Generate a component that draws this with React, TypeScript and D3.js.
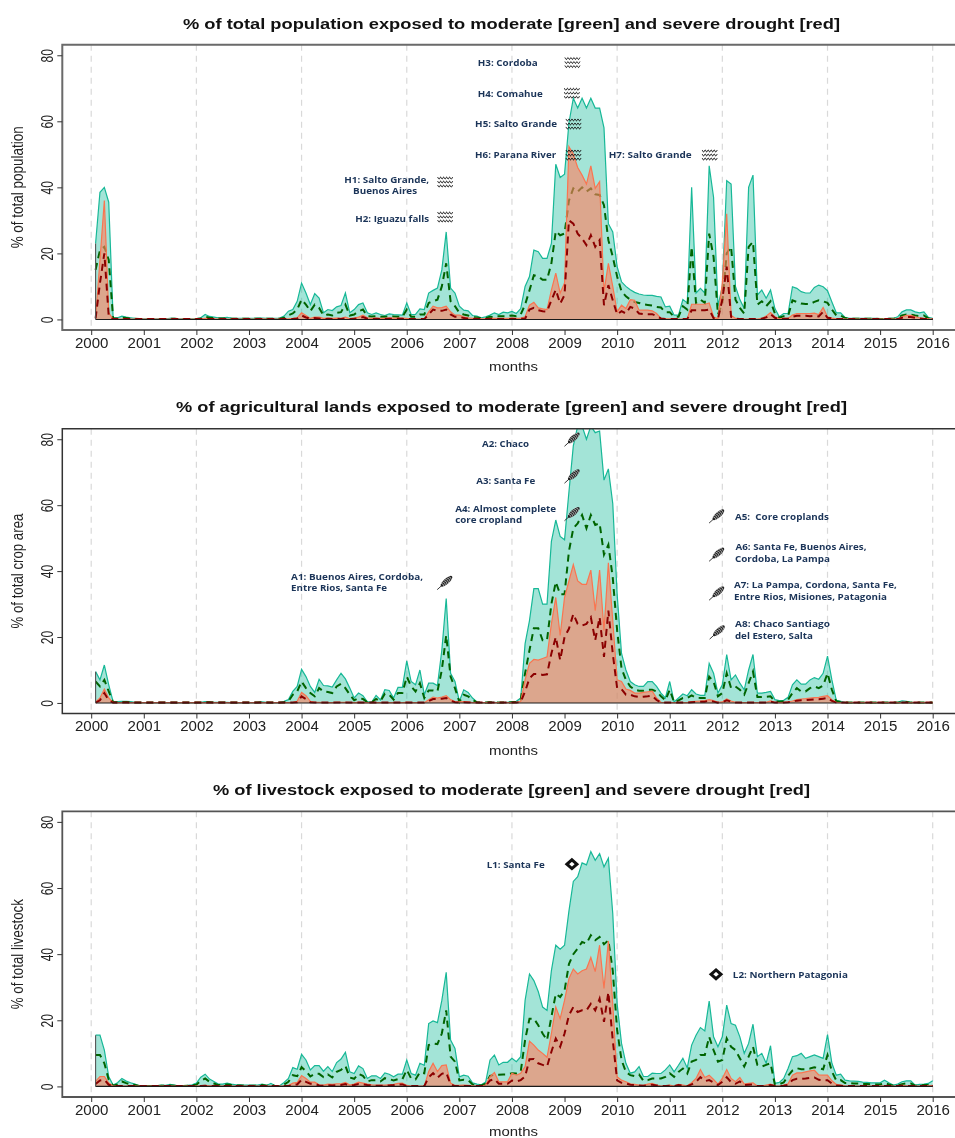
import React, { useEffect, useRef } from "react";
import * as d3 from "d3";

// Monthly series, Feb 2000 .. Jan 2016 (percent)
const popModerateArea = [
  23,38.5,40,35.5,.5,.5,1,.7,.5,.3,.2,
  .2,.2,.2,.2,.2,.2,.3,.3,.2,.2,.2,.2,
  .2,.5,1.5,.9,.7,.5,.5,.6,.4,.3,.3,.3,
  .3,.3,.4,.4,.3,.3,.3,.4,1,2.5,3,5.5,
  11,8,4.5,7.8,6.5,2,3,2.7,3.8,4.2,8,2,
  3,4.5,5,2,1.5,2,1.5,1.2,1.7,1.5,1.4,1.3,
  5,1.5,1.5,3.2,3,8,8.8,9.5,15,26.5,9.5,8,
  4,2.8,2.6,1.2,1,.5,.8,1.3,2,1.5,2.2,2,
  2.4,1.8,3.3,10,13,21,20.5,18.5,18.5,23,47,43,
  44,59.5,67,64,67,64,67,64,64,58,29,26.5,
  16,11.4,10,9,8.2,7.7,7.4,7.3,7.3,7,6.8,3.8,
  4,1.3,1.3,6,5,40,8,9.4,8,46.5,37,4,
  10,42,41,10,6,3.3,40,43.7,7.4,8.9,6.4,8.9,
  3.3,.8,1.8,1.8,9.9,9.4,8.4,8,8,9.7,10.4,9.9,
  8.7,5.3,2,2,.6,.3,.3,.3,.3,.3,.3,.3,
  .2,.2,.3,.3,.8,2.3,2.9,2.9,2.3,2,2.3,.6,
  .3];
const popModerateLine = [
  15,21,22,18,.3,.3,.5,.4,.3,.2,.1,
  .1,.1,.1,.1,.1,.1,.2,.2,.1,.1,.1,.1,
  .1,.3,.8,.5,.4,.3,.3,.3,.2,.2,.2,.2,
  .2,.2,.2,.2,.2,.2,.2,.2,.5,1.3,1.8,3,
  6,4.5,2.5,4.5,3.5,1.2,1.5,1.2,2,2.2,4.5,1.2,
  1.5,2.5,3,1,.9,1,.8,.8,1,.9,.8,.8,
  3,.8,.8,1.5,1.5,5,5.5,6,10,17,5.5,4,
  2,1.5,1.2,.7,.6,.3,.4,.8,.7,1,1,1,
  1.2,1,1.5,4.5,8.8,13.4,13,12,12,17,26.7,25.5,
  26,36,39.7,38.7,40,38.7,39.7,37.9,37.7,34.6,24,19,
  13,8.5,7,6,5.3,5,4.6,4.4,4.2,3.8,3.6,2.2,
  2.2,.8,.8,4,3,22,5,6,5,26,19,1.5,
  5,20,22,6,3.5,1.8,22,23.5,4.5,5.5,4,5.5,
  1.8,.5,1,1,5.8,5.3,4.8,4.7,4.7,5.3,5.8,5.5,
  5,3,1.2,1.2,.4,.2,.2,.2,.2,.2,.2,.2,
  .1,.1,.2,.2,.4,1.2,1.5,1.5,1.2,1,1.2,.3,
  .2];
const popSevereArea = [
  .5,18,36,2,.1,.1,.1,.1,.1,.1,.1,
  .1,.1,.1,.1,.1,.1,.1,.1,.1,.1,.1,.1,
  .1,.1,.3,.2,.2,.1,.1,.1,.1,.1,.1,.1,
  .1,.1,.1,.2,.1,.1,.1,.1,.1,.2,.3,.5,
  2,1.2,.3,.7,.7,.3,.4,.3,.4,.3,.7,.2,
  .4,.7,1.3,.5,.3,.4,.3,.3,.5,.4,.4,.4,
  .3,.1,.1,.1,.1,2.3,4,3.5,3.6,4,2.3,1.3,
  1.3,.8,.5,.3,.3,.2,.2,.3,.3,.3,.3,.3,
  .4,.3,.4,.8,4.3,5.2,3.5,3.2,3,8.9,14,8,
  11,52.3,50,46,43.7,41,46.5,39.7,41.7,8.4,17,10,
  2.3,4.3,3.3,6,5.8,2.8,2.8,2.8,2.6,1.8,.3,.2,
  .2,.1,.1,.1,.1,4.6,4.6,4.6,4.6,5,.8,.2,
  11,32,1.3,.3,.1,.1,.1,.1,.1,.3,1,2.1,
  .8,.2,.3,.3,1.3,1.8,1.8,1.8,1.8,1.9,1.5,3.6,
  .8,.4,.2,.1,.1,.1,.1,.1,.1,.1,.1,.1,
  .1,.1,.1,.1,.2,.8,1.2,1.2,.8,.5,.3,.2,
  .1];
const popSevereLine = [
  .3,11,20,1,.1,.1,.1,.1,.1,.1,.1,
  .1,.1,.1,.1,.1,.1,.1,.1,.1,.1,.1,.1,
  .1,.1,.1,.1,.1,.1,.1,.1,.1,.1,.1,.1,
  .1,.1,.1,.1,.1,.1,.1,.1,.1,.1,.1,.3,
  1.2,.6,.2,.4,.3,.1,.2,.1,.2,.1,.3,.1,
  .2,.3,.7,.2,.1,.2,.1,.1,.2,.2,.2,.2,
  .1,.1,.1,.1,.1,1.5,3,2.6,2.6,3,1.5,.8,
  .8,.4,.2,.1,.1,.1,.1,.1,.1,.1,.1,.1,
  .2,.1,.2,.2,3,3.5,2.8,2.5,2.4,5.8,9,4.8,
  7.4,30,29,26,24.5,22.5,25.5,22,24,4.3,10.4,5.8,
  1.5,2.5,1.8,3.8,3.3,1.8,1.6,1.6,1.6,1,.3,.1,
  .1,.1,.1,.1,.1,2.8,2.8,2.8,2.8,3,.4,.1,
  6,16,.8,.2,.1,.1,.1,.1,.1,.2,.6,1.6,
  .5,.1,.2,.2,.8,1.1,1.1,1.1,1,1.1,.9,2.3,
  .5,.3,.1,.1,.1,.1,.1,.1,.1,.1,.1,.1,
  .1,.1,.1,.1,.1,.5,.7,.7,.5,.3,.1,.1,
  .1];

const cropModerateArea = [
  9.5,7,11.5,5.5,.4,.4,.5,.5,.4,.2,.1,
  .1,.1,.1,.1,.1,.1,.1,.1,.1,.1,.1,.1,
  .1,.2,.4,.3,.2,.2,.2,.2,.1,.1,.1,.1,
  .1,.1,.2,.3,.2,.1,.1,.1,.5,1,3.5,5,
  10.2,8,5,3.2,7.2,5.3,5.2,4.8,7,9,7.3,4.5,
  1.5,3,2.2,.3,.3,2.3,.9,4,3.8,1.5,4.7,4.7,
  12.8,6.5,5.5,10,2.5,6,6,5.3,16,31.7,9,6.5,
  .5,4,3.2,1.5,.3,.1,.1,.3,.2,.1,.2,.2,
  .4,.5,1.5,18,25,34.7,34.7,30,30,49,55.5,50.5,
  49.5,64,78,84,84,80,84,82,82.5,67.6,71,60.5,
  33,15,10,6.5,5.5,5,5,6.5,6.5,5,3,1.5,
  6.5,.3,1.5,2.7,2.2,4,2.7,2.3,2.3,12,9,3,
  5.5,14.7,7,8.5,6,4,10,14.7,3,3,3.2,3.5,
  1,.7,.8,1.7,5.5,7,5.7,5.7,7,7.7,7.2,9,
  14.2,7,.8,.5,.2,.1,.1,.1,.1,.1,.1,.1,
  .1,.1,.1,.1,.2,.6,.5,.2,.1,.1,.1,.1,
  .1];
const cropModerateLine = [
  6.5,5,7,3.5,.2,.2,.3,.3,.2,.1,.1,
  .1,.1,.1,.1,.1,.1,.1,.1,.1,.1,.1,.1,
  .1,.1,.2,.2,.1,.1,.1,.1,.1,.1,.1,.1,
  .1,.1,.1,.2,.1,.1,.1,.1,.2,.5,2.5,3.5,
  6.5,4.5,3,2,4.5,3.5,3.3,3,5,5.8,4.5,2.5,
  .8,1.5,1.2,.2,.2,1.2,.5,2.8,2.5,1,3,3,
  8,5,3.5,6,1.5,3.8,3.8,3.5,10,20.5,8,4.5,
  .3,2.5,2,1,.2,.1,.1,.2,.1,.1,.1,.1,
  .2,.3,1,9,16,22.7,22.7,19,19,30,36.7,33,
  33,46,53,54.5,57,53,57,54,54.5,45,48,38,
  22,10.5,7,5,4,3.7,3.7,4,4,3.5,2,.8,
  4,.2,.8,1.5,1.5,2.3,1.6,1.5,1.5,8,6.5,2,
  3,9,4.5,5,4,2.5,6,9.5,1.8,1.8,1.9,2,
  .5,.4,.5,1,3,4.5,3.5,3.5,4.5,5,4.5,5.3,
  9,4,.5,.3,.1,.1,.1,.1,.1,.1,.1,.1,
  .1,.1,.1,.1,.1,.3,.3,.1,.1,.1,.1,.1,
  .1];
const cropSevereArea = [
  .2,1.5,4.2,1.5,.1,.1,.1,.1,.1,.1,.1,
  .1,.1,.1,.1,.1,.1,.1,.1,.1,.1,.1,.1,
  .1,.1,.1,.1,.1,.1,.1,.1,.1,.1,.1,.1,
  .1,.1,.1,.1,.1,.1,.1,.1,.1,.1,.1,.5,
  3.2,2.2,.5,.2,.2,.1,.1,.1,.2,.2,.2,.1,
  .1,.2,.1,.1,.1,.1,.1,.1,.1,.1,.1,.1,
  .2,.1,.1,.1,.1,1,1.8,1.5,1.8,2.2,1,.4,
  .3,.4,.3,.1,.1,.1,.1,.1,.1,.1,.1,.1,
  .1,.1,.5,7,12,13.2,13,13.5,14,24,32,20.5,
  32,37,42,37,36,36,40.3,28,40.3,22,42.5,25,
  7,6.5,4.2,3.8,3,3,3.2,3.4,3.6,1.5,.2,.1,
  .1,.1,.1,.1,.1,.4,.5,.6,.7,1,.7,.2,
  .3,1.2,.6,.2,.1,.1,.1,.1,.1,.1,.2,.6,
  .2,.1,.1,.3,.6,1,1.2,1.3,1.5,1.6,1.7,2,
  2.2,1,.2,.1,.1,.1,.1,.1,.1,.1,.1,.1,
  .1,.1,.1,.1,.1,.1,.1,.1,.1,.1,.1,.1,
  .1];
const cropSevereLine = [
  .1,.8,3,.8,.1,.1,.1,.1,.1,.1,.1,
  .1,.1,.1,.1,.1,.1,.1,.1,.1,.1,.1,.1,
  .1,.1,.1,.1,.1,.1,.1,.1,.1,.1,.1,.1,
  .1,.1,.1,.1,.1,.1,.1,.1,.1,.1,.1,.2,
  2,1.2,.2,.1,.1,.1,.1,.1,.1,.1,.1,.1,
  .1,.1,.1,.1,.1,.1,.1,.1,.1,.1,.1,.1,
  .1,.1,.1,.1,.1,.6,1.2,1.2,1.3,1.5,.7,.2,
  .1,.2,.1,.1,.1,.1,.1,.1,.1,.1,.1,.1,
  .1,.1,.3,3.5,7.5,8.8,8.8,8.5,8.7,15,20,13,
  20,22.5,27,24,23.5,24,26,19,26,14,28,15,
  4.5,4.2,2.5,2.5,2,1.8,1.9,2,2.2,.9,.1,.1,
  .1,.1,.1,.1,.1,.2,.3,.4,.4,.7,.4,.1,
  .2,.8,.4,.1,.1,.1,.1,.1,.1,.1,.1,.4,
  .1,.1,.1,.2,.4,.7,.8,.9,1,1.1,1.1,1.3,
  1.5,.6,.1,.1,.1,.1,.1,.1,.1,.1,.1,.1,
  .1,.1,.1,.1,.1,.1,.1,.1,.1,.1,.1,.1,
  .1];

const stockModerateArea = [
  15.5,15.5,11,3,.4,1.1,2.4,1.6,1.1,.7,.1,
  .1,.1,.1,.2,.4,.3,.6,.4,.1,.2,.3,.5,
  1,2.8,3.7,2.2,1.5,.7,.7,1,.7,.5,.5,.4,
  .4,.4,.4,.7,.3,.9,.2,.2,1.2,2.4,5.7,5.2,
  9.7,8,5,6.3,6.3,4.6,6,4.5,7.2,8.3,10.3,4.4,
  3.9,6.2,5.4,2.4,3.2,3.2,2.4,4.1,3.7,2.9,3.7,3.7,
  8,3.9,3.4,7,6.4,19,19.8,19.3,26,34.5,14,11.5,
  2.9,3.4,3.1,1.1,.7,.5,1.3,8,9.5,6.5,7.3,7.3,
  8.5,7.5,9,26,34,32,28.7,24,23,35,42.7,41.5,
  42.7,53,62,63.4,67.6,67,71,68.4,70.4,66.4,69,52.3,
  25,13,7,4,4.4,6,3,3,4,3.9,3.9,5,
  6.5,4.4,6.4,8.5,5.6,12.5,15.5,17.8,16.8,25.8,15,12,
  15,24.6,19,18.5,15,10,13,18.8,9,10,7,12.3,
  .9,1.2,2.4,5.4,9,9.3,10,8.5,9,9.5,9,8.5,
  15.7,7,3.4,3.7,1.9,1.7,1.6,1.5,1.3,1.2,1.1,1.1,
  1.1,1.9,1.1,.4,.7,1.4,1.7,1.7,.4,.6,.7,.9,
  1.7];
const stockModerateLine = [
  9.5,9.5,7,2,.2,.6,1.5,1,.6,.4,.1,
  .1,.1,.1,.1,.2,.2,.3,.2,.1,.1,.2,.3,
  .5,1.7,2.4,1.4,.9,.4,.4,.6,.4,.3,.3,.2,
  .2,.2,.2,.4,.2,.5,.1,.1,.6,1.4,3.4,3.1,
  5.8,4.6,3,3.8,3.8,2.8,3.6,2.7,4.4,5,6.2,2.7,
  2.3,3.8,3.2,1.5,1.9,1.9,1.5,2.5,2.2,1.8,2.2,2.2,
  5,2.4,2.1,4.3,4,12.5,13,12.8,16,23,9,7.5,
  1.8,2,1.9,.6,.4,.3,.8,3.2,3.5,3.5,3.6,3.6,
  4,3.9,4.5,14,20.5,20.5,18.5,16,14,21,28,27,
  29,37,40,41.7,43.7,43.2,45.7,44.2,45.2,43,44.2,35,
  17,8,4.4,3.4,3.1,3.6,1.7,1.9,2.4,2.4,2.4,2.9,
  4,2.9,4.4,5.4,3.9,7.5,8,9.5,9.5,15,11,7.5,
  8,14.5,12,11,8.5,6,9,12,6.5,6,6.5,7,
  .5,.7,1.2,3.2,4.8,5.5,5.2,5.2,5.4,5.8,5.5,5.2,
  9.5,4.5,1.8,1.9,1,1,.9,.9,.7,.7,.6,.6,
  .6,1,.6,.2,.3,.7,.9,.9,.2,.3,.4,.5,
  1];
const stockSevereArea = [
  1.5,3,3,1,.1,.1,.1,.1,.1,.1,.1,
  .1,.1,.1,.1,.1,.1,.1,.1,.1,.1,.1,.1,
  .1,.2,.3,.2,.2,.1,.1,.1,.1,.1,.1,.1,
  .1,.1,.1,.1,.1,.1,.1,.1,.1,.3,1,1.2,
  3.3,2.4,1.3,1.3,.5,.4,.7,.6,.8,.8,1.2,.4,
  .7,1.3,1,.7,.5,.4,.4,.4,.5,.6,.9,1,
  .3,.1,.1,.1,.1,4.5,7,4.5,6.3,6.5,1,.3,
  .3,.4,.3,.2,.1,.1,.4,3,4.2,1.4,1.4,1.4,
  4,3.4,4,6,13.7,12.5,11,10,8.8,16,24,20.5,
  26,32.6,35.5,34,35,35.5,39,34.7,42.7,29.6,44,25,
  2.9,1.9,1.4,.8,.6,.4,.3,.7,.9,.4,.1,.2,
  .4,.1,.6,.4,.2,1.1,2.4,5.1,2.7,3.4,2.1,.7,
  2.4,5.1,2.4,1.4,2.7,.7,.9,1.1,.1,.1,.4,.7,
  .2,.1,.4,.8,3.4,4.1,4.1,4.4,4.7,4.9,3.5,3.4,
  3.4,1.7,.6,.4,.2,.1,.1,.1,.1,.1,.1,.1,
  .1,.2,.1,.1,.1,.3,.2,.1,.1,.1,.1,.2,
  .3];
const stockSevereLine = [
  .7,1.8,2,.5,.1,.1,.1,.1,.1,.1,.1,
  .1,.1,.1,.1,.1,.1,.1,.1,.1,.1,.1,.1,
  .1,.1,.2,.1,.1,.1,.1,.1,.1,.1,.1,.1,
  .1,.1,.1,.1,.1,.1,.1,.1,.1,.1,.5,.6,
  2,1.4,.8,.8,.3,.2,.4,.3,.4,.4,.7,.2,
  .4,.7,.6,.4,.3,.2,.2,.2,.3,.4,.6,.6,
  .1,.1,.1,.1,.1,2.8,4,2.6,3.8,4.2,.6,.1,
  .1,.1,.1,.1,.1,.1,.2,1.8,2.2,.8,.8,.8,
  1.8,1.5,1.9,3,8.2,8.3,7,6.5,6,10.5,14.5,12,
  16,21.5,24,22.5,23,23,25,23,26.5,19.5,28.5,14,
  1.8,1.1,.9,.5,.4,.3,.2,.4,.5,.3,.1,.1,
  .2,.1,.4,.2,.1,.6,1.4,2.8,1.6,1.9,1.2,.4,
  1.4,2.8,1.3,.8,1.5,.4,.5,.6,.1,.1,.2,.4,
  .1,.1,.2,.5,1.9,2.3,2.3,2.4,2.6,2.7,2,1.9,
  1.9,.9,.3,.2,.1,.1,.1,.1,.1,.1,.1,.1,
  .1,.1,.1,.1,.1,.2,.1,.1,.1,.1,.1,.1,
  .1];

const yearTicks = d3.range(2000, 2017);
const gridYears = [2000, 2002, 2004, 2006, 2008, 2010, 2012, 2014, 2016];
const valueTicks = [0, 20, 40, 60, 80];

// Annotations: [year, value, width, text]
const popNotes: [number, number, number, string][] = [
  [2004.81, 42.5, 85, "H1: Salto Grande,"],
  [2004.98, 38.9, 64, "Buenos Aires"],
  [2005.02, 30.7, 74, "H2: Iguazu falls"],
  [2007.35, 77.7, 60, "H3: Cordoba"],
  [2007.35, 68.3, 65, "H4: Comahue"],
  [2007.30, 59.2, 82, "H5: Salto Grande"],
  [2007.30, 49.8, 81, "H6: Parana River"],
  [2009.84, 49.8, 83, "H7: Salto Grande"],
];
const popWaves: [number, number][] = [
  [2006.73, 41.6], [2006.73, 31], [2009.15, 77.8], [2009.14, 68.5],
  [2009.17, 59.2], [2009.17, 49.8], [2011.76, 49.8],
];
const cropNotes: [number, number, number, string][] = [
  [2003.80, 38.5, 132, "A1: Buenos Aires, Cordoba,"],
  [2003.80, 34.9, 96, "Entre Rios, Santa Fe"],
  [2007.43, 78.8, 47, "A2: Chaco"],
  [2007.32, 67.6, 59, "A3: Santa Fe"],
  [2006.92, 59.1, 101, "A4: Almost complete"],
  [2006.92, 55.5, 67, "core cropland"],
  [2012.24, 56.7, 94, "A5:  Core croplands"],
  [2012.25, 47.5, 131, "A6: Santa Fe, Buenos Aires,"],
  [2012.24, 43.8, 95, "Cordoba, La Pampa"],
  [2012.22, 35.8, 163, "A7: La Pampa, Cordona, Santa Fe,"],
  [2012.22, 32.2, 153, "Entre Rios, Misiones, Patagonia"],
  [2012.24, 24, 95, "A8: Chaco Santiago"],
  [2012.24, 20.3, 78, "del Estero, Salta"],
];
const cropWheat: [number, number][] = [
  [2006.72, 36.4], [2009.14, 79.9], [2009.14, 68.7], [2009.14, 57.3],
  [2011.89, 56.6], [2011.89, 45], [2011.89, 33.2], [2011.9, 21.4],
];
const stockNotes: [number, number, number, string][] = [
  [2007.52, 67.2, 58, "L1: Santa Fe"],
  [2012.2, 33.9, 115, "L2: Northern Patagonia"],
];
const stockDiamonds: [number, number][] = [[2009.14, 67.2], [2011.88, 33.9]];

const panels = [
  { title: "% of total population exposed to moderate [green] and severe drought [red]",
    tx: [183, 657], tb: 29, yLabel: "% of total population", yw: 122,
    top: 44.7, bottom: 330, mBase: 371, frame: ["#6a6a6a", 2],
    mod: popModerateArea, modL: popModerateLine, sev: popSevereArea, sevL: popSevereLine,
    notes: popNotes, waves: popWaves, wheat: [], diamonds: [] },
  { title: "% of agricultural lands exposed to moderate [green] and severe drought [red]",
    tx: [176, 671], tb: 412, yLabel: "% of total crop area", yw: 115,
    top: 428.7, bottom: 713.5, mBase: 755, frame: ["#333333", 1.5],
    mod: cropModerateArea, modL: cropModerateLine, sev: cropSevereArea, sevL: cropSevereLine,
    notes: cropNotes, waves: [], wheat: cropWheat, diamonds: [] },
  { title: "% of livestock exposed to moderate [green] and severe drought [red]",
    tx: [213, 597], tb: 795, yLabel: "% of total livestock", yw: 110,
    top: 811.3, bottom: 1097, mBase: 1136, frame: ["#555555", 1.8],
    mod: stockModerateArea, modL: stockModerateLine, sev: stockSevereArea, sevL: stockSevereLine,
    notes: stockNotes, waves: [], wheat: [], diamonds: stockDiamonds },
] as any[];

const NAVY = "#1b3458";
const SANS = "'Liberation Sans', Arial, sans-serif";

export default function App() {
  const ref = useRef<SVGSVGElement | null>(null);
  useEffect(() => {
    const svg = d3.select(ref.current!);
    svg.selectAll("*").remove();
    const left = 62.3;
    const x = d3.scaleLinear().domain([2000, 2016]).range([91.2, 932.7]);
    const tOf = (i: number) => 2000 + (i + 1) / 12;

    panels.forEach((p: any, pi: number) => {
      const g = svg.append("g");
      const y = d3.scaleLinear().domain([-3.2, 83.2]).range([p.bottom, p.top]);
      const clipId = `clip${pi}`;
      svg.append("clipPath").attr("id", clipId).append("rect")
        .attr("x", left).attr("y", p.top).attr("width", 955 - left).attr("height", p.bottom - p.top);

      // grid
      g.append("g").selectAll("line").data(gridYears).join("line")
        .attr("x1", (d) => x(d)).attr("x2", (d) => x(d))
        .attr("y1", p.top).attr("y2", p.bottom)
        .attr("stroke", "#d9d9d9").attr("stroke-width", 1.2).attr("stroke-dasharray", "6,5");

      const plot = g.append("g").attr("clip-path", `url(#${clipId})`);
      const area = d3.area<number>().x((_, i) => x(tOf(i))).y0(y(0)).y1((d) => y(d));
      const line = d3.line<number>().x((_, i) => x(tOf(i))).y((d) => y(d));

      plot.append("path").attr("d", area(p.mod)!).attr("fill", "#1abc9c").attr("fill-opacity", 0.4);
      plot.append("path").attr("d", line(p.mod)!).attr("fill", "none").attr("stroke", "#17b897").attr("stroke-width", 1.2);
      plot.append("path").attr("d", line(p.modL)!).attr("fill", "none").attr("stroke", "#006400")
        .attr("stroke-width", 2).attr("stroke-dasharray", "7,5");
      plot.append("path").attr("d", area(p.sev)!).attr("fill", "#ff7f60").attr("fill-opacity", 0.62);
      plot.append("path").attr("d", line(p.sev)!).attr("fill", "none").attr("stroke", "#fa7550").attr("stroke-width", 1.2);
      plot.append("path").attr("d", line(p.sevL)!).attr("fill", "none").attr("stroke", "#8b0000")
        .attr("stroke-width", 2).attr("stroke-dasharray", "7,5");

      // baseline and left closure of the polygons
      plot.append("line").attr("x1", x(tOf(0))).attr("x2", x(2016)).attr("y1", y(0)).attr("y2", y(0))
        .attr("stroke", "#1a1a1a").attr("stroke-width", 1.1);
      plot.append("line").attr("x1", x(tOf(0))).attr("x2", x(tOf(0))).attr("y1", y(0)).attr("y2", y(p.mod[0]))
        .attr("stroke", "#555").attr("stroke-width", 1.1);

      // frame (open on the right, where the image is cut)
      g.append("path")
        .attr("d", `M955,${p.top}H${left}V${p.bottom}H955`)
        .attr("fill", "none").attr("stroke", p.frame[0]).attr("stroke-width", p.frame[1]);

      // axes
      const ax = g.append("g").attr("transform", `translate(0,${p.bottom})`)
        .call(d3.axisBottom(x).tickValues(yearTicks).tickFormat(d3.format("d")).tickSize(5));
      ax.select(".domain").remove();
      ax.selectAll("line").attr("stroke", "#333");
      ax.selectAll("text").attr("font-family", SANS).attr("font-size", 14).attr("fill", "#222")
        .attr("y", 8).attr("dy", "0.71em")
        .attr("textLength", 33.5).attr("lengthAdjust", "spacingAndGlyphs");

      const ay = g.append("g").attr("transform", `translate(${left},0)`)
        .call(d3.axisLeft(y).tickValues(valueTicks).tickSize(5));
      ay.select(".domain").remove();
      ay.selectAll("line").attr("stroke", "#333");
      ay.selectAll("text").attr("font-family", SANS).attr("font-size", 12).attr("fill", "#222")
        .attr("x", 0).attr("dy", 0).attr("text-anchor", "middle")
        .attr("transform", "translate(-15.5,0) scale(1.42,1) rotate(-90) translate(0,4.3)");

      // titles
      const midY = (y(0) + y(80)) / 2;
      g.append("text").attr("x", p.tx[0]).attr("y", p.tb).text(p.title)
        .attr("font-family", SANS).attr("font-weight", "bold").attr("font-size", 14.5).attr("fill", "#111")
        .attr("textLength", p.tx[1]).attr("lengthAdjust", "spacingAndGlyphs");
      g.append("text").attr("x", 489).attr("y", p.mBase).text("months")
        .attr("font-family", SANS).attr("font-size", 13.5).attr("fill", "#222")
        .attr("textLength", 49).attr("lengthAdjust", "spacingAndGlyphs");
      g.append("text").text(p.yLabel)
        .attr("transform", `translate(23,${midY}) scale(1.3,1) rotate(-90)`)
        .attr("text-anchor", "middle")
        .attr("font-family", SANS).attr("font-size", 12).attr("fill", "#222")
        .attr("textLength", p.yw).attr("lengthAdjust", "spacingAndGlyphs");

      // annotations
      g.append("g").selectAll("text").data(p.notes as any[]).join("text")
        .attr("x", (d: any) => x(d[0])).attr("y", (d: any) => y(d[1])).attr("dy", "0.36em")
        .text((d: any) => d[3])
        .attr("font-family", "'Open Sans', sans-serif").attr("font-weight", 700).attr("font-size", 9.6)
        .attr("fill", NAVY).attr("textLength", (d: any) => d[2]).attr("lengthAdjust", "spacingAndGlyphs")
        .style("white-space", "pre");

      // water icons
      const waveLine = d3.line<number>().x((d) => d).y((_, i) => (i % 2 ? 1 : -1)).curve(d3.curveMonotoneX);
      const wavePts = d3.range(-7.5, 8, 1.5);
      (p.waves as [number, number][]).forEach((w) => {
        const gw = g.append("g").attr("transform", `translate(${x(w[0])},${y(w[1])})`);
        [-4, 0, 4].forEach((dy) => {
          gw.append("path").attr("transform", `translate(0,${dy})`).attr("d", waveLine(wavePts)!)
            .attr("fill", "none").attr("stroke", "#111").attr("stroke-width", 1);
        });
      });

      // wheat icons
      (p.wheat as [number, number][]).forEach((w) => {
        const gw = g.append("g").attr("transform", `translate(${x(w[0])},${y(w[1])}) rotate(-42)`);
        gw.append("line").attr("x1", -10).attr("x2", -2).attr("y1", 0).attr("y2", 0)
          .attr("stroke", "#333").attr("stroke-width", 0.9);
        gw.append("ellipse").attr("cx", 2.5).attr("cy", 0).attr("rx", 7.5).attr("ry", 2.8).attr("fill", "#222");
        d3.range(-3, 9, 2).forEach((dx) => {
          gw.append("path").attr("d", `M${dx},-2.6L${dx + 1},0L${dx},2.6`).attr("fill", "none")
            .attr("stroke", "#e8e8e8").attr("stroke-width", 0.6);
        });
      });

      // livestock diamonds
      g.append("g").selectAll("path").data(p.diamonds as any[]).join("path")
        .attr("transform", (d: any) => `translate(${x(d[0])},${y(d[1])})`)
        .attr("d", "M-5,0L0,-4.4L5,0L0,4.4Z")
        .attr("fill", "#fff").attr("stroke", "#111").attr("stroke-width", 3);
    });
  }, []);
  return (
    <svg ref={ref} width={955} height={1138}
      style={{ position: "absolute", left: 0, top: 0, background: "#fff", display: "block", filter: "blur(0.3px)" }} />
  );
}
